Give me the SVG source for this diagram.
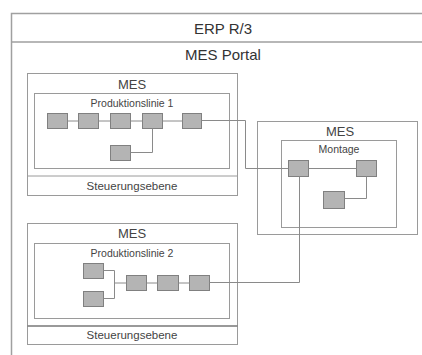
<svg xmlns="http://www.w3.org/2000/svg" width="422" height="355" viewBox="0 0 422 355">
<style>
.frame{fill:none;stroke:#a0a0a0;stroke-width:1.5}
.box{fill:#fff;stroke:#9a9a9a;stroke-width:1}
.blk{fill:#b4b4b4;stroke:#808080;stroke-width:1}
.con{fill:none;stroke:#8a8a8a;stroke-width:1}
.t1{font-family:"Liberation Sans",Arial,sans-serif;font-size:15px;fill:#333;text-anchor:middle}
.t2{font-family:"Liberation Sans",Arial,sans-serif;font-size:13px;fill:#444;text-anchor:middle}
.t3{font-family:"Liberation Sans",Arial,sans-serif;font-size:10.5px;fill:#444;text-anchor:middle}
.t4{font-family:"Liberation Sans",Arial,sans-serif;font-size:11.5px;fill:#444;text-anchor:middle}
</style>
<rect width="422" height="355" fill="#fff"/>
<g id="portal">
<path class="frame" d="M423,13.5 H11.5 V356 M11.5,42 H423"/>
<text class="t1" x="223" y="34">ERP R/3</text>
<text class="t1" x="223" y="60">MES Portal</text>
</g>
<g id="mes1">
<rect class="box" x="27.5" y="73.5" width="210" height="122"/>
<line class="box" x1="27.5" y1="176" x2="237.5" y2="176"/>
<text class="t2" x="132" y="89">MES</text>
<text class="t4" x="132" y="190">Steuerungsebene</text>
</g>
<g id="linie1">
<rect class="box" x="34.5" y="93.5" width="195" height="75"/>
<text class="t3" x="132" y="106.5">Produktionslinie 1</text>
<rect class="blk" x="47.5" y="113.5" width="20" height="15"/>
<rect class="blk" x="78.5" y="113.5" width="20" height="15"/>
<rect class="blk" x="110.5" y="113.5" width="20" height="15"/>
<rect class="blk" x="142.5" y="113.5" width="20" height="15"/>
<rect class="blk" x="182.5" y="113.5" width="19" height="15"/>
<rect class="blk" x="110.5" y="145.5" width="20" height="15"/>
</g>
<g id="mes3">
<rect class="box" x="257.5" y="121.5" width="160" height="113"/>
<text class="t2" x="340" y="136">MES</text>
</g>
<g id="montage">
<rect class="box" x="281.5" y="140.5" width="115" height="87"/>
<text class="t3" x="339" y="153">Montage</text>
<rect class="blk" x="288.5" y="160.5" width="20" height="16"/>
<rect class="blk" x="356.5" y="160.5" width="20" height="16"/>
<rect class="blk" x="323.5" y="191.5" width="21" height="17"/>
</g>
<g id="mes2">
<rect class="box" x="27.5" y="223.5" width="210" height="121"/>
<line x1="27.5" y1="326" x2="237.5" y2="326" stroke="#777" stroke-width="1.3"/>
<text class="t2" x="132" y="238">MES</text>
<text class="t4" x="132" y="339">Steuerungsebene</text>
</g>
<g id="linie2">
<rect class="box" x="34.5" y="243.5" width="195" height="75"/>
<text class="t3" x="132" y="257">Produktionslinie 2</text>
<rect class="blk" x="83.5" y="263.5" width="20" height="15"/>
<rect class="blk" x="83.5" y="291.5" width="20" height="15"/>
<rect class="blk" x="126.5" y="275.5" width="20" height="15"/>
<rect class="blk" x="157.5" y="275.5" width="21" height="15"/>
<rect class="blk" x="189.5" y="275.5" width="20" height="15"/>
</g>
<g id="connectors">
<path class="con" d="M67.5,121 H78.5 M98.5,121 H110.5 M130.5,121 H142.5 M162.5,121 H182.5"/>
<path class="con" d="M152.5,128.5 V152.5 H130.5"/>
<path class="con" d="M201.5,120.5 H245.5 V168.5 H288.5"/>
<path class="con" d="M308.5,168.5 H356.5"/>
<path class="con" d="M366.5,176.5 V198.5 H344.5"/>
<path class="con" d="M103.5,270.5 H114.5 V298.5 H103.5 M114.5,283 H126.5 M146.5,283 H157.5 M178.5,283 H189.5"/>
<path class="con" d="M209.5,282.5 H299.5 V176.5"/>
</g>
</svg>
